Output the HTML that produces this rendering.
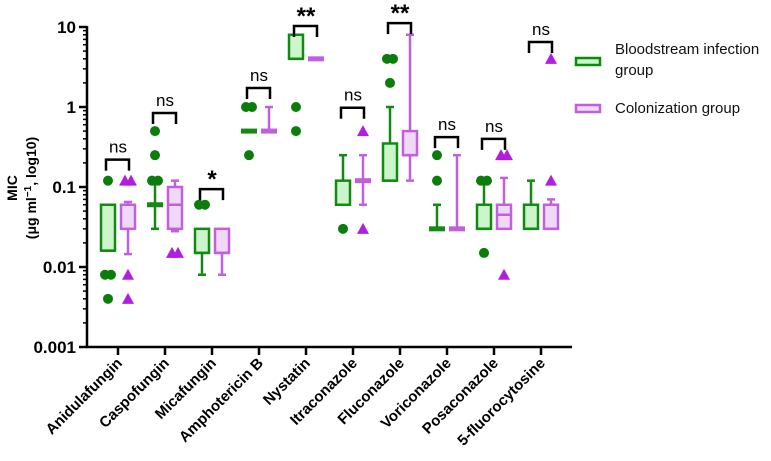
<!DOCTYPE html>
<html><head><meta charset="utf-8">
<style>
html,body{margin:0;padding:0;background:#fff;}
svg{display:block;font-family:"Liberation Sans",Arial,sans-serif;}
</style></head>
<body>
<svg id="chart" width="771" height="461" viewBox="0 0 771 461">
<g id="axes"></g>
<g id="marks"></g>
<g id="sig"></g>
<g font-weight="bold" font-size="14" text-anchor="middle">
  <text transform="translate(17,188) rotate(-90)">MIC</text>
  <text transform="translate(36,188) rotate(-90)">(μg ml<tspan baseline-shift="super" font-size="10">−1</tspan>, log10)</text>
</g>
<g font-size="15">
  <g>
    <rect x="576" y="58" width="24" height="7" fill="#ccf5cc" stroke="#0d8a0d" stroke-width="2.5"/>
    <text x="615" y="54" fill="#111">Bloodstream infection</text>
    <text x="615" y="75" fill="#111">group</text>
  </g>
  <g>
    <rect x="576" y="105" width="24" height="7" fill="#f0d9f7" stroke="#c060e0" stroke-width="2.5"/>
    <text x="615" y="113" fill="#111">Colonization group</text>
  </g>
</g>
</svg>
<script>
const categories=["Anidulafungin","Caspofungin","Micafungin","Amphotericin B","Nystatin","Itraconazole","Fluconazole","Voriconazole","Posaconazole","5-fluorocytosine"];
const gQ1=[0.016,0.06,0.015,0.5,4,0.06,0.12,0.03,0.03,0.03];
const gMed=[0.016,0.06,0.015,0.5,4,0.06,0.12,0.03,0.03,0.03];
const gQ3=[0.06,0.06,0.03,0.5,8,0.12,0.35,0.03,0.06,0.06];
const gLo=[0.016,0.03,0.008,0.5,4,0.06,0.12,0.03,0.03,0.03];
const gHi=[0.06,0.12,0.03,0.5,8,0.25,1,0.06,0.12,0.12];
const gOut=[[0.12,0.008,0.008,0.004],[0.12,0.12,0.25,0.5],[0.06,0.06],[1,1,0.25],[1,0.5],[0.03],[4,4,2],[0.12,0.25],[0.12,0.12,0.015],[]];
const pQ1=[0.03,0.03,0.015,0.5,4,0.12,0.25,0.03,0.03,0.03];
const pMed=[0.06,0.06,0.015,0.5,4,0.12,0.25,0.03,0.045,0.03];
const pQ3=[0.06,0.1,0.03,0.5,4,0.12,0.5,0.03,0.06,0.06];
const pLo=[0.0145,0.028,0.008,0.5,4,0.06,0.12,0.03,0.03,0.03];
const pHi=[0.065,0.12,0.03,1,4,0.25,8,0.25,0.13,0.07];
const pOut=[[0.12,0.12,0.008,0.004],[0.015,0.015],[],[],[],[0.5,0.03],[],[],[0.25,0.25,0.008],[0.12,4]];
const sigLabels=["ns","ns","*","ns","**","ns","**","ns","ns","ns"];
const sigLevel=[0.22,0.84,0.094,1.73,10.3,0.98,11.2,0.42,0.4,6.5];
const yTicks=[10,1,0.1,0.01,0.001];
const yTickLabels=["10","1","0.1","0.01","0.001"];

const NS="http://www.w3.org/2000/svg";
const X0=87,X1=572,Ytop=27,PX=80;
function y(v){return Ytop+(1-Math.log10(v))*PX;}
function xc(i){return 118+47*i;}
function mk(tag,attrs,parent){const e=document.createElementNS(NS,tag);for(const k in attrs)e.setAttribute(k,attrs[k]);parent.appendChild(e);return e;}
const axes=document.getElementById('axes'),marks=document.getElementById('marks'),sig=document.getElementById('sig');

let l=mk('line',{x1:X0,y1:y(10)-1,x2:X0,y2:y(0.001)+1,stroke:'#000','stroke-width':2.5},axes);


for(let d=-3;d<1;d++){for(let m=2;m<=9;m++){const t=mk('line',{x1:X0-4,x2:X0,y1:y(m*Math.pow(10,d)),y2:y(m*Math.pow(10,d)),stroke:'#000','stroke-width':1.5},axes);

}}
yTicks.forEach((v,i)=>{const t=mk('line',{x1:X0-8,x2:X0,y1:y(v),y2:y(v),stroke:'#000','stroke-width':2.5},axes);


const tx=mk('text',{x:X0-11,y:y(v)+6,'text-anchor':'end','font-size':17,'font-weight':'bold'},axes);tx.textContent=yTickLabels[i];

});
l=mk('line',{x1:X0-1,y1:y(0.001),x2:X1,y2:y(0.001),stroke:'#000','stroke-width':2.5},axes);


categories.forEach((c,i)=>{const t=mk('line',{x1:xc(i),x2:xc(i),y1:y(0.001),y2:y(0.001)+8,stroke:'#000','stroke-width':2.5},axes);


const tx=mk('text',{transform:`translate(${xc(i)+5},${y(0.001)+17}) rotate(-45)`,'text-anchor':'end','font-size':15,'font-weight':'bold'},axes);tx.textContent=c;

});

function drawBox(cx,q1,med,q3,lo,hi,out,stroke,fill,dot,tri,name){
  const g=mk('g',{},marks);
  
  
  const w=14;
  if(hi>q3){mk('line',{x1:cx,x2:cx,y1:y(hi),y2:y(q3),stroke,'stroke-width':2.5},g);mk('line',{x1:cx-4,x2:cx+4,y1:y(hi),y2:y(hi),stroke,'stroke-width':2.5},g);}
  if(lo<q1){mk('line',{x1:cx,x2:cx,y1:y(lo),y2:y(q1),stroke,'stroke-width':2.5},g);mk('line',{x1:cx-4,x2:cx+4,y1:y(lo),y2:y(lo),stroke,'stroke-width':2.5},g);}
  if(Math.abs(y(q1)-y(q3))<1){mk('rect',{x:cx-w/2-1,y:y(q1)-2.5,width:w+2,height:5,fill:stroke},g);}
  else{mk('rect',{x:cx-w/2,y:y(q3),width:w,height:y(q1)-y(q3),fill,stroke,'stroke-width':2.5},g);
    mk('line',{x1:cx-w/2,x2:cx+w/2,y1:y(med),y2:y(med),stroke,'stroke-width':2.5},g);}
  const seen={};
  out.forEach(v=>{seen[v]=(seen[v]||0)+1;});
  const idx={};
  out.forEach(v=>{const n=seen[v];idx[v]=(idx[v]||0)+1;const off=n>1?(idx[v]===1?-3:3):0;const px=cx+off,py=y(v);
    let e;
    if(tri){e=mk('polygon',{points:`${px},${py-6} ${px-6},${py+5} ${px+6},${py+5}`,fill:dot},g);}
    else{e=mk('circle',{cx:px,cy:py,r:5,fill:dot},g);}
    
    });
}
categories.forEach((c,i)=>{
  drawBox(xc(i)-10,gQ1[i],gMed[i],gQ3[i],gLo[i],gHi[i],gOut[i],'#138a13','#ccf5cc','#0a7d0a',false,'box-bloodstream-'+i);
  drawBox(xc(i)+10,pQ1[i],pMed[i],pQ3[i],pLo[i],pHi[i],pOut[i],'#c060e0','#f0d9f7','#b01ee0',true,'box-colonization-'+i);
  const by=y(sigLevel[i]);
  const b=mk('path',{d:`M${xc(i)-12},${by+11} V${by} H${xc(i)+11} V${by+11}`,fill:'none',stroke:'#000','stroke-width':2.5},sig);
  
  
  const t=mk('text',{x:xc(i),y:by-(sigLabels[i]==='ns'?7:2),'text-anchor':'middle','font-size':sigLabels[i]==='ns'?17:24,'font-weight':sigLabels[i]==='ns'?'normal':'bold'},sig);
  t.textContent=sigLabels[i];
  
  
});
</script>
</body></html>
